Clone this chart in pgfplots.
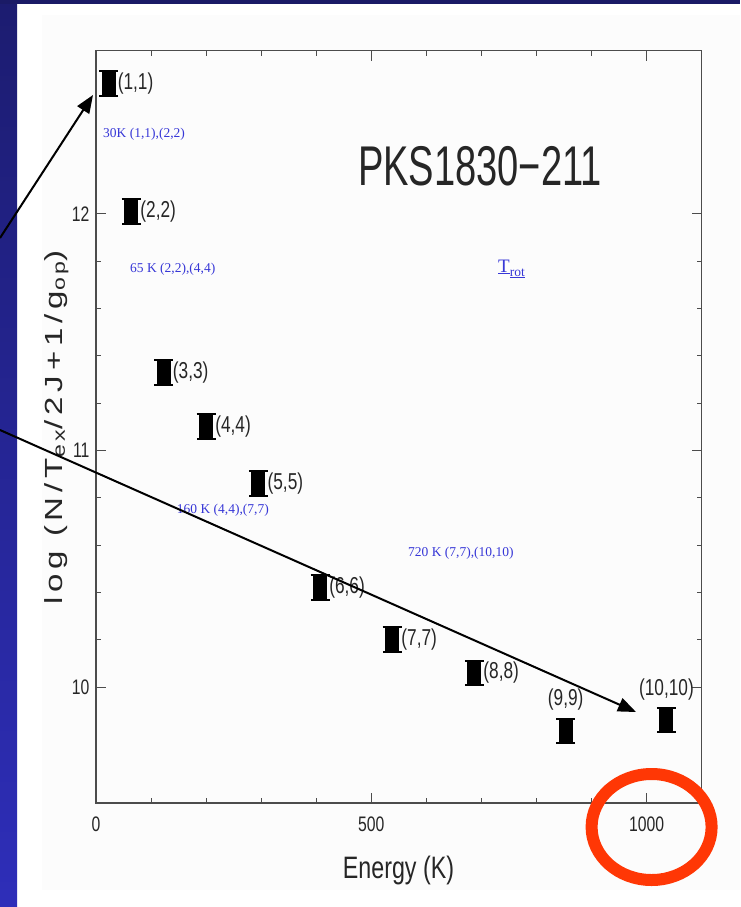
\documentclass[border=0pt]{standalone}
\usepackage{pgfplots}
\pgfplotsset{compat=1.18}
\usepackage{pgfplotstable}
\usepackage{fontspec}
\usepackage{graphicx}
\usetikzlibrary{arrows.meta}
\setmainfont{Liberation Serif}
\newfontfamily\hf[FakeStretch=0.75]{Liberation Sans}
\newfontfamily\hft[FakeStretch=0.68]{Liberation Sans}
\newfontfamily\hfy[LetterSpace=15]{Liberation Sans}
\definecolor{navy}{RGB}{26,26,102}
\definecolor{bandtop}{RGB}{28,28,112}
\definecolor{bandbot}{RGB}{46,46,185}
\definecolor{annblue}{RGB}{55,55,215}
\definecolor{ringred}{RGB}{255,55,5}
\definecolor{panel}{RGB}{252,252,252}

\pgfplotstableread{
E    y      err    lab
23   12.55  0.052  (1,1)
64   12.01  0.052  (2,2)
123  11.33  0.052  (3,3)
200  11.10  0.052  (4,4)
295  10.86  0.052  (5,5)
407  10.42  0.052  (6,6)
538  10.20  0.052  (7,7)
687  10.06  0.052  (8,8)
}\dataA
\pgfplotstableread{
E    y      err    lab
853  9.815  0.052  (9,9)
1036 9.86   0.052  (10,10)
}\dataB

\begin{document}
\begin{tikzpicture}
\useasboundingbox (0pt,0pt) rectangle (740pt,-907pt);
\fill[white] (0pt,0pt) rectangle (740pt,-907pt);
\fill[panel] (42pt,-15pt) rectangle (740pt,-890pt);
\shade[top color=bandtop, bottom color=bandbot] (0pt,0pt) rectangle (17pt,-907pt);
\fill[navy] (0pt,0pt) rectangle (740pt,-4pt);

\begin{axis}[
  at={(96pt,-803pt)}, anchor=south west,
  scale only axis, width=605.7pt, height=752.5pt,
  xmin=0, xmax=1100, ymin=9.51, ymax=12.69,
  xtick={0,500,1000}, ytick={10,11,12},
  minor x tick num=4, minor y tick num=4,
  tick align=inside,
  major tick length=10pt, minor tick length=5pt,
  every tick/.style={black!70, line width=1pt},
  axis line style={black!70, line width=1.4pt},
  /pgf/number format/assume math mode=true,
  /pgf/number format/1000 sep={},
  ticklabel style={font=\hf\fontsize{21}{21}\selectfont, text=black!85},
  xticklabel style={yshift=-10pt},
  yticklabel style={xshift=-3pt},
  clip=false,
]
\addplot[only marks, mark=none,
  error bars/.cd, y dir=both, y explicit, error mark=|,
  error bar style={line width=14pt, black},
  error mark options={line width=2pt, mark size=9.5pt, black}]
  table[x=E, y=y, y error=err] {\dataA};
\addplot[only marks, mark=none,
  error bars/.cd, y dir=both, y explicit, error mark=|,
  error bar style={line width=14pt, black},
  error mark options={line width=2pt, mark size=9.5pt, black}]
  table[x=E, y=y, y error=err] {\dataB};
\addplot[only marks, mark=none, nodes near coords, point meta=explicit symbolic,
  every node near coord/.append style={anchor=west, xshift=9pt, inner sep=0pt,
    font=\hf\fontsize{23}{23}\selectfont, text=black!85}]
  table[x=E, y=y, meta=lab] {\dataA};
\addplot[only marks, mark=none, nodes near coords, point meta=explicit symbolic,
  every node near coord/.append style={anchor=south, yshift=20pt, inner sep=0pt,
    font=\hf\fontsize{23}{23}\selectfont, text=black!85}]
  table[x=E, y=y, meta=lab] {\dataB};
\end{axis}

% title and axis labels
\node[anchor=base, inner sep=0pt, text=black!85] at (480pt,-185pt)
  {\hft\fontsize{56}{56}\selectfont PKS1830−211};
\node[anchor=base, inner sep=0pt, text=black!85] at (398.5pt,-878pt)
  {\hf\fontsize{31}{31}\selectfont Energy (K)};
\node[rotate=90, anchor=base, inner sep=0pt, text=black!85] at (62pt,-427.5pt)
  {\scalebox{1}[0.75]{\hfy\fontsize{33}{33}\selectfont log (N/T\textsubscript{ex}/2J+1/g\textsubscript{op})}};

% blue annotations
\begin{scope}[every node/.style={anchor=base west, inner sep=0pt, text=annblue, font=\fontsize{13.5}{13.5}\selectfont}]
\node at (103pt,-137pt) {30K (1,1),(2,2)};
\node at (130pt,-272pt) {65 K (2,2),(4,4)};
\node at (176.7pt,-513pt) {160 K (4,4),(7,7)};
\node at (408pt,-556pt) {720 K (7,7),(10,10)};
\node at (498pt,-272pt) {{\fontsize{19}{19}\selectfont\underline{T}}\raisebox{-4pt}{\underline{rot}}};
\end{scope}

% arrows
\draw[black, line width=2pt, -{Triangle[length=18pt,width=14pt]}] (0pt,-238pt) -- (93pt,-95pt);
\draw[black, line width=2pt, -{Triangle[length=18pt,width=14pt]}] (0pt,-430pt) -- (636pt,-712pt);

% red ring
\draw[ringred, line width=12pt] (651.6pt,-827pt) ellipse [x radius=60pt, y radius=53pt];
\end{tikzpicture}
\end{document}
